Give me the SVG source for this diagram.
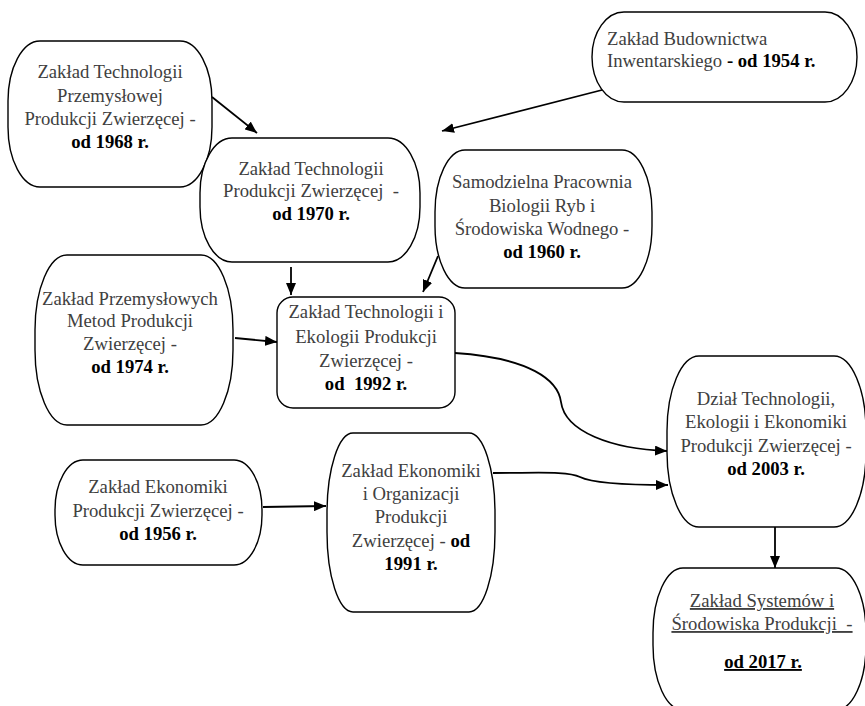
<svg xmlns="http://www.w3.org/2000/svg" width="865" height="706" viewBox="0 0 865 706">
<style>
.box{fill:#fff;stroke:#000;stroke-width:1.4}
.t{font-family:"Liberation Serif","Times New Roman",serif;font-size:18.7px;fill:#404040;text-anchor:middle;white-space:pre}
.l{text-anchor:start}
.b{font-weight:bold;fill:#000}
.u{text-decoration:underline}
.c{fill:none;stroke:#000;stroke-width:1.8;marker-end:url(#ah)}
</style>
<defs>
<marker id="ah" markerUnits="userSpaceOnUse" markerWidth="13" markerHeight="10" refX="12" refY="5" orient="auto">
<path d="M0,0 L12,5 L0,10 z" fill="#000"/>
</marker>
</defs>
<rect width="865" height="706" fill="#fff"/>
<g id="connectors">
<path class="c" d="M212,97 L257,133"/>
<path class="c" d="M602,90 L442,131"/>
<path class="c" d="M291,267 L291,295"/>
<path class="c" d="M438,256 L423,292"/>
<path class="c" d="M235,338 L277,342"/>
<path class="c" d="M455,353 C530,358 558,380 561,402 C565,432 612,449 667,451"/>
<path class="c" d="M263,507 L326,506"/>
<path class="c" d="M493,473 C540,473 568,471 580,477 C592,483 620,485 668,485"/>
<path class="c" d="M775,527 L775,568"/>
</g>
<g id="n1968">
<rect class="box" x="8" y="41" width="204" height="146" rx="32" ry="60"/>
<text class="t" x="110" y="78">Zakład Technologii</text>
<text class="t" x="110" y="102">Przemysłowej</text>
<text class="t" x="110" y="125">Produkcji Zwierzęcej -</text>
<text class="t b" x="110" y="148">od 1968 r.</text>
</g>
<g id="n1954">
<rect class="box" x="592" y="12" width="265" height="90" rx="32" ry="45"/>
<text class="t l" x="607" y="45">Zakład Budownictwa</text>
<text class="t l" x="607" y="67">Inwentarskiego <tspan class="b">- od 1954 r.</tspan></text>
</g>
<g id="n1970">
<rect class="box" x="200" y="138" width="220" height="124" rx="32" ry="55"/>
<text class="t" x="311" y="175">Zakład Technologii</text>
<text class="t" x="311" y="197">Produkcji Zwierzęcej  -</text>
<text class="t b" x="311" y="220">od 1970 r.</text>
</g>
<g id="n1960">
<rect class="box" x="435" y="150" width="217" height="138" rx="30" ry="62"/>
<text class="t" x="542" y="188">Samodzielna Pracownia</text>
<text class="t" x="542" y="212">Biologii Ryb i</text>
<text class="t" x="542" y="235">Środowiska Wodnego -</text>
<text class="t b" x="542" y="258">od 1960 r.</text>
</g>
<g id="n1974">
<rect class="box" x="35" y="255" width="198" height="170" rx="32" ry="75"/>
<text class="t" x="130" y="305">Zakład Przemysłowych</text>
<text class="t" x="130" y="327">Metod Produkcji</text>
<text class="t" x="130" y="350">Zwierzęcej -</text>
<text class="t b" x="130" y="373">od 1974 r.</text>
</g>
<g id="n1992">
<rect class="box" x="277" y="297" width="178" height="111" rx="16" ry="16"/>
<text class="t" x="366" y="318">Zakład Technologii i</text>
<text class="t" x="366" y="343">Ekologii Produkcji</text>
<text class="t" x="366" y="367">Zwierzęcej -</text>
<text class="t b" x="366" y="390">od  1992 r.</text>
</g>
<g id="n1956">
<rect class="box" x="55" y="460" width="207" height="105" rx="28" ry="50"/>
<text class="t" x="158" y="493">Zakład Ekonomiki</text>
<text class="t" x="158" y="517">Produkcji Zwierzęcej -</text>
<text class="t b" x="158" y="540">od 1956 r.</text>
</g>
<g id="n1991">
<rect class="box" x="327" y="433" width="168" height="179" rx="26" ry="80"/>
<text class="t" x="411" y="477">Zakład Ekonomiki</text>
<text class="t" x="411" y="500">i Organizacji</text>
<text class="t" x="411" y="523">Produkcji</text>
<text class="t" x="411" y="547">Zwierzęcej - <tspan class="b">od</tspan></text>
<text class="t b" x="411" y="570">1991 r.</text>
</g>
<g id="n2003">
<rect class="box" x="667" y="356" width="199" height="171" rx="32" ry="75"/>
<text class="t" x="766" y="405">Dział Technologii,</text>
<text class="t" x="766" y="428">Ekologii i Ekonomiki</text>
<text class="t" x="766" y="452">Produkcji Zwierzęcej -</text>
<text class="t b" x="766" y="475">od 2003 r.</text>
</g>
<g id="n2017">
<rect class="box" x="653" y="568" width="213" height="142" rx="30" ry="65"/>
<text class="t u" x="762" y="607">Zakład Systemów i</text>
<text class="t u" x="762" y="630">Środowiska Produkcji  -</text>
<text class="t b u" x="763" y="668">od 2017 r.</text>
</g>
</svg>
